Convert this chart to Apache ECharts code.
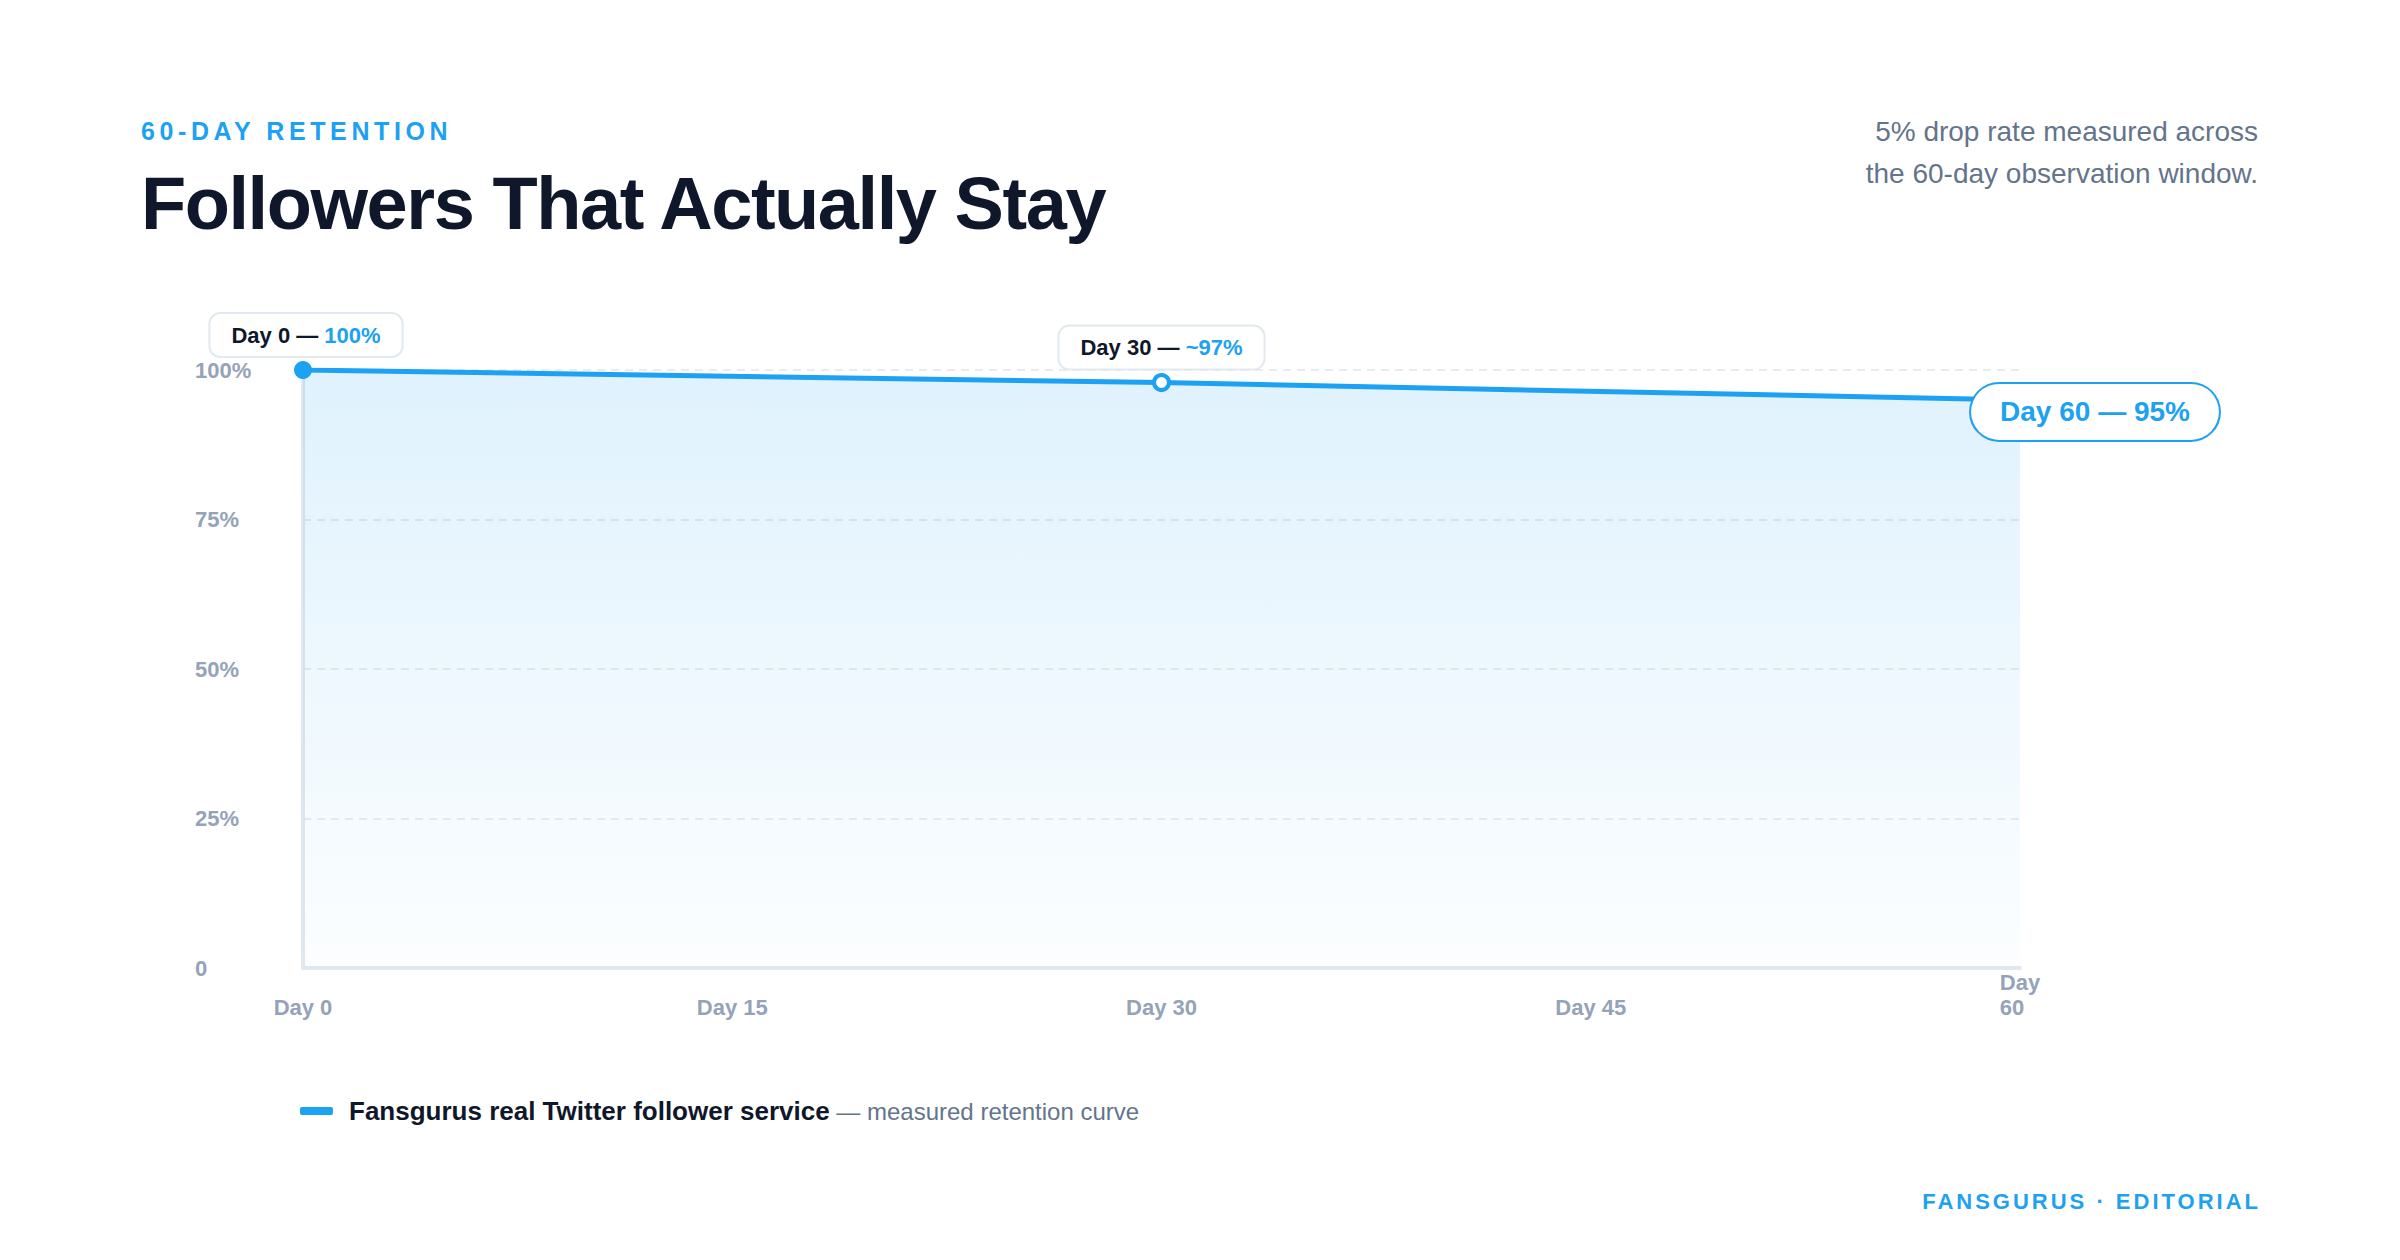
<!DOCTYPE html>
<html>
<head>
<meta charset="utf-8">
<script src="https://cdn.jsdelivr.net/npm/echarts@6/dist/echarts.min.js"></script>
<style>
  html, body { margin: 0; padding: 0; background: #ffffff; }
  body { width: 2400px; height: 1260px; position: relative; overflow: hidden;
         font-family: "Liberation Sans", Arial, Helvetica, sans-serif; }
  #chart { position: absolute; left: 0; top: 0; width: 2400px; height: 1260px; }
  .eyebrow { position: absolute; left: 141px; top: 119px; font-size: 25px; line-height: 25px;
             font-weight: 700; color: #1DA1F2; letter-spacing: 4.6px; white-space: nowrap; }
  .title { position: absolute; left: 141px; top: 167px; font-size: 74px; line-height: 74px;
           font-weight: 700; color: #0F172A; letter-spacing: -1.45px; white-space: nowrap; }
  .note { position: absolute; right: 142px; top: 111px; font-size: 28px; line-height: 42px;
          color: #64748B; text-align: right; white-space: nowrap; }
  .footer { position: absolute; right: 139px; top: 1191px; font-size: 22px; line-height: 22px;
            font-weight: 700; color: #1DA1F2; letter-spacing: 3px; white-space: nowrap; }
</style>
</head>
<body>
<div id="chart"></div>
<div class="eyebrow">60-DAY RETENTION</div>
<div class="title">Followers That Actually Stay</div>
<div class="note">5% drop rate measured across<br>the 60-day observation window.</div>
<div class="footer">FANSGURUS · EDITORIAL</div>
<script>
// ---- data ----
const days = [0, 30, 60];
const retention = [100, 97.9, 95];
const xTicks = [0, 15, 30, 45, 60];
const yTicks = [0, 25, 50, 75, 100];
const annotationPrefix = ['Day 0 — ', 'Day 30 — ', 'Day 60 — '];
const annotationValue = ['100%', '~97%', '95%'];
const seriesName = 'Fansgurus real Twitter follower service';
const seriesNote = ' — measured retention curve';

const BLUE = '#1DA1F2';
const FONT = '"Liberation Sans", Arial, Helvetica, sans-serif';

const smallBox = {
  backgroundColor: '#ffffff', borderColor: '#E2E8F0', borderWidth: 2, borderRadius: 10,
  padding: [10, 21, 10, 21]
};
const rich = {
  d: { color: '#0F172A', fontWeight: 'bold', fontSize: 22, fontFamily: FONT, lineHeight: 22 },
  v: { color: BLUE, fontWeight: 'bold', fontSize: 22, fontFamily: FONT, lineHeight: 22 }
};

const seriesData = days.map((d, i) => {
  const item = { value: [d, retention[i]] };
  if (i === 0) {
    item.symbol = 'circle'; item.symbolSize = 18;
    item.itemStyle = { color: BLUE };
    item.label = Object.assign({ show: true, position: 'inside', offset: [3, -35], rich,
      formatter: '{d|' + annotationPrefix[i] + '}{v|' + annotationValue[i] + '}' }, smallBox);
  } else if (i === 1) {
    item.symbol = 'circle'; item.symbolSize = 15;
    item.itemStyle = { color: '#ffffff', borderColor: BLUE, borderWidth: 4 };
    item.label = Object.assign({ show: true, position: 'inside', offset: [0, -35], rich,
      formatter: '{d|' + annotationPrefix[i] + '}{v|' + annotationValue[i] + '}' }, smallBox);
  } else {
    item.symbol = 'circle'; item.symbolSize = 6;
    item.itemStyle = { color: BLUE };
    item.label = {
      show: true, position: 'inside', offset: [75, 12],
      formatter: annotationPrefix[i] + annotationValue[i],
      color: BLUE, fontWeight: 'bold', fontSize: 28, fontFamily: FONT, lineHeight: 28,
      backgroundColor: '#ffffff', borderColor: BLUE, borderWidth: 2, borderRadius: 29,
      padding: [14, 29, 14, 29]
    };
  }
  return item;
});

const chart = echarts.init(document.getElementById('chart'), null, { renderer: 'svg', width: 2400, height: 1260 });
chart.setOption({
  animation: false,
  backgroundColor: 'transparent',
  grid: { left: 303, right: 380, top: 370, bottom: 292, containLabel: false },
  xAxis: {
    type: 'value', min: xTicks[0], max: xTicks[xTicks.length - 1], interval: 15,
    axisLine: { show: true, lineStyle: { color: '#E2E8F0', width: 4 } },
    axisTick: { show: false },
    splitLine: { show: false },
    axisLabel: {
      margin: 52, verticalAlign: 'bottom', color: '#94A3B8', fontWeight: 'bold', fontSize: 22,
      fontFamily: FONT, lineHeight: 25, showMaxLabel: true, showMinLabel: true,
      formatter: v => v === 60 ? '{l|Day}\n{l|60}' : 'Day ' + v,
      rich: { l: { align: 'left', color: '#94A3B8', fontWeight: 'bold', fontSize: 22, fontFamily: FONT, lineHeight: 25 } }
    }
  },
  yAxis: {
    type: 'value', min: yTicks[0], max: yTicks[yTicks.length - 1], interval: 25,
    axisLine: { show: true, lineStyle: { color: '#E2E8F0', width: 4 } },
    axisTick: { show: false },
    splitLine: { show: true, lineStyle: { color: '#E8ECF2', width: 2, type: [8, 6] } },
    axisLabel: {
      margin: 108, align: 'left', color: '#94A3B8', fontWeight: 'bold', fontSize: 22, fontFamily: FONT,
      padding: [0, 0, 5, 0],
      formatter: v => v === 0 ? '0' : v + '%'
    }
  },
  legend: {
    left: 295, top: 1091, itemWidth: 33, itemHeight: 8,
    data: [{ name: seriesName, icon: 'roundRect' }],
    itemStyle: { color: BLUE, borderWidth: 0 },
    selectedMode: false,
    formatter: n => '{a|' + n + '}{b|' + seriesNote + '}',
    textStyle: {
      lineHeight: 30,
      rich: {
        a: { color: '#0F172A', fontWeight: 'bold', fontSize: 26, fontFamily: FONT, padding: [0, 0, 0, 11], lineHeight: 30 },
        b: { color: '#64748B', fontSize: 24, fontFamily: FONT, lineHeight: 30 }
      }
    }
  },
  series: [{
    name: seriesName,
    type: 'line',
    data: seriesData,
    smooth: false,
    symbol: 'circle',
    showSymbol: true,
    lineStyle: { color: BLUE, width: 5 },
    itemStyle: { color: BLUE },
    areaStyle: {
      color: new echarts.graphic.LinearGradient(0, 0, 0, 1, [
        { offset: 0, color: 'rgba(29,161,242,0.2)' },
        { offset: 1, color: 'rgba(29,161,242,0.02)' }
      ])
    },
    emphasis: { disabled: true },
    z: 3
  }]
});
</script>
</body>
</html>
